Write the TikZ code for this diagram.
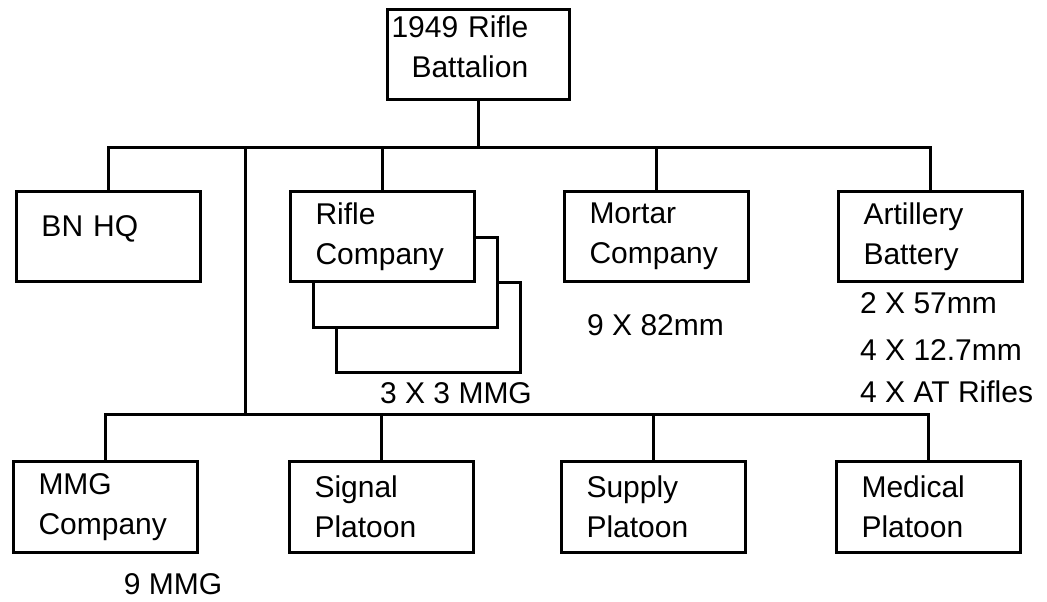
\documentclass[tikz,border=0pt]{standalone}
\usepackage{fontspec}
\setmainfont{Liberation Sans}
\usetikzlibrary{positioning}

\begin{document}
\begin{tikzpicture}[x=1pt, y=-1pt,
    unit/.style={draw, line width=3pt, fill=white, anchor=north west, align=left,
        text width=134pt, inner xsep=25pt, inner ysep=0pt, minimum height=90pt,
        font=\fontsize{30}{40}\selectfont},
    note/.style={font=\fontsize{30}{40}\selectfont, inner sep=0pt},
    link/.style={line width=3pt}]
    \useasboundingbox (0,0) rectangle (1047,602);

    % Battalion
    \node[unit, text width=174pt, inner xsep=4pt] (bat) at (386,8)
        {1949 Rifle\\\hspace*{20pt}Battalion\rule[-15pt]{0pt}{1pt}};

    % Top row
    \node[unit] (hq) at (15,190) {BN HQ\rule[-20pt]{0pt}{1pt}};
    \node[unit] (rifleC) at (335,281) {};
    \node[unit] (rifleB) at (312,236) {};
    \node[unit] (rifle) at (289,190) {Rifle\\Company};
    \node[unit] (mortar) at (563,190) {Mortar\\Company};
    \node[unit] (arty) at (837,190) {Artillery\\Battery};

    % Bottom row
    \node[unit, minimum height=91pt] (mmg) at (12,460) {MMG\\Company};
    \node[unit, minimum height=91pt] (signal) at (288,460) {Signal\\Platoon};
    \node[unit, minimum height=91pt] (supply) at (560,460) {Supply\\Platoon};
    \node[unit, minimum height=91pt] (medical) at (835,460) {Medical\\Platoon};

    % Weapons
    \node[note] (rifleWpn) at (456,393) {3 X 3 MMG};
    \node[note, anchor=west] (mortarWpn) at (587,325) {9 X 82mm};
    \node[note, anchor=west] (artyWpnA) at (860,303) {2 X 57mm};
    \node[note, anchor=west] (artyWpnB) at (860,350) {4 X 12.7mm};
    \node[note, anchor=west] (artyWpnC) at (860,392) {4 X AT Rifles};
    \node[note] (mmgWpn) at (173,584) {9 MMG};

    % Links
    \path (bat.south) ++(0,46) coordinate (upbar);
    \coordinate (lowbar) at (245,414);
    \draw[link] (bat.south) -- (upbar);
    \draw[link] (hq.north) |- (upbar) -| (arty.north);
    \draw[link] (rifle.north) -- (rifle.north |- upbar);
    \draw[link] (mortar.north) -- (mortar.north |- upbar);
    \draw[link] (lowbar |- upbar) -- (lowbar);
    \draw[link] (mmg.north) |- (lowbar) -| (medical.north);
    \draw[link] (signal.north) -- (signal.north |- lowbar);
    \draw[link] (supply.north) -- (supply.north |- lowbar);
\end{tikzpicture}
\end{document}
